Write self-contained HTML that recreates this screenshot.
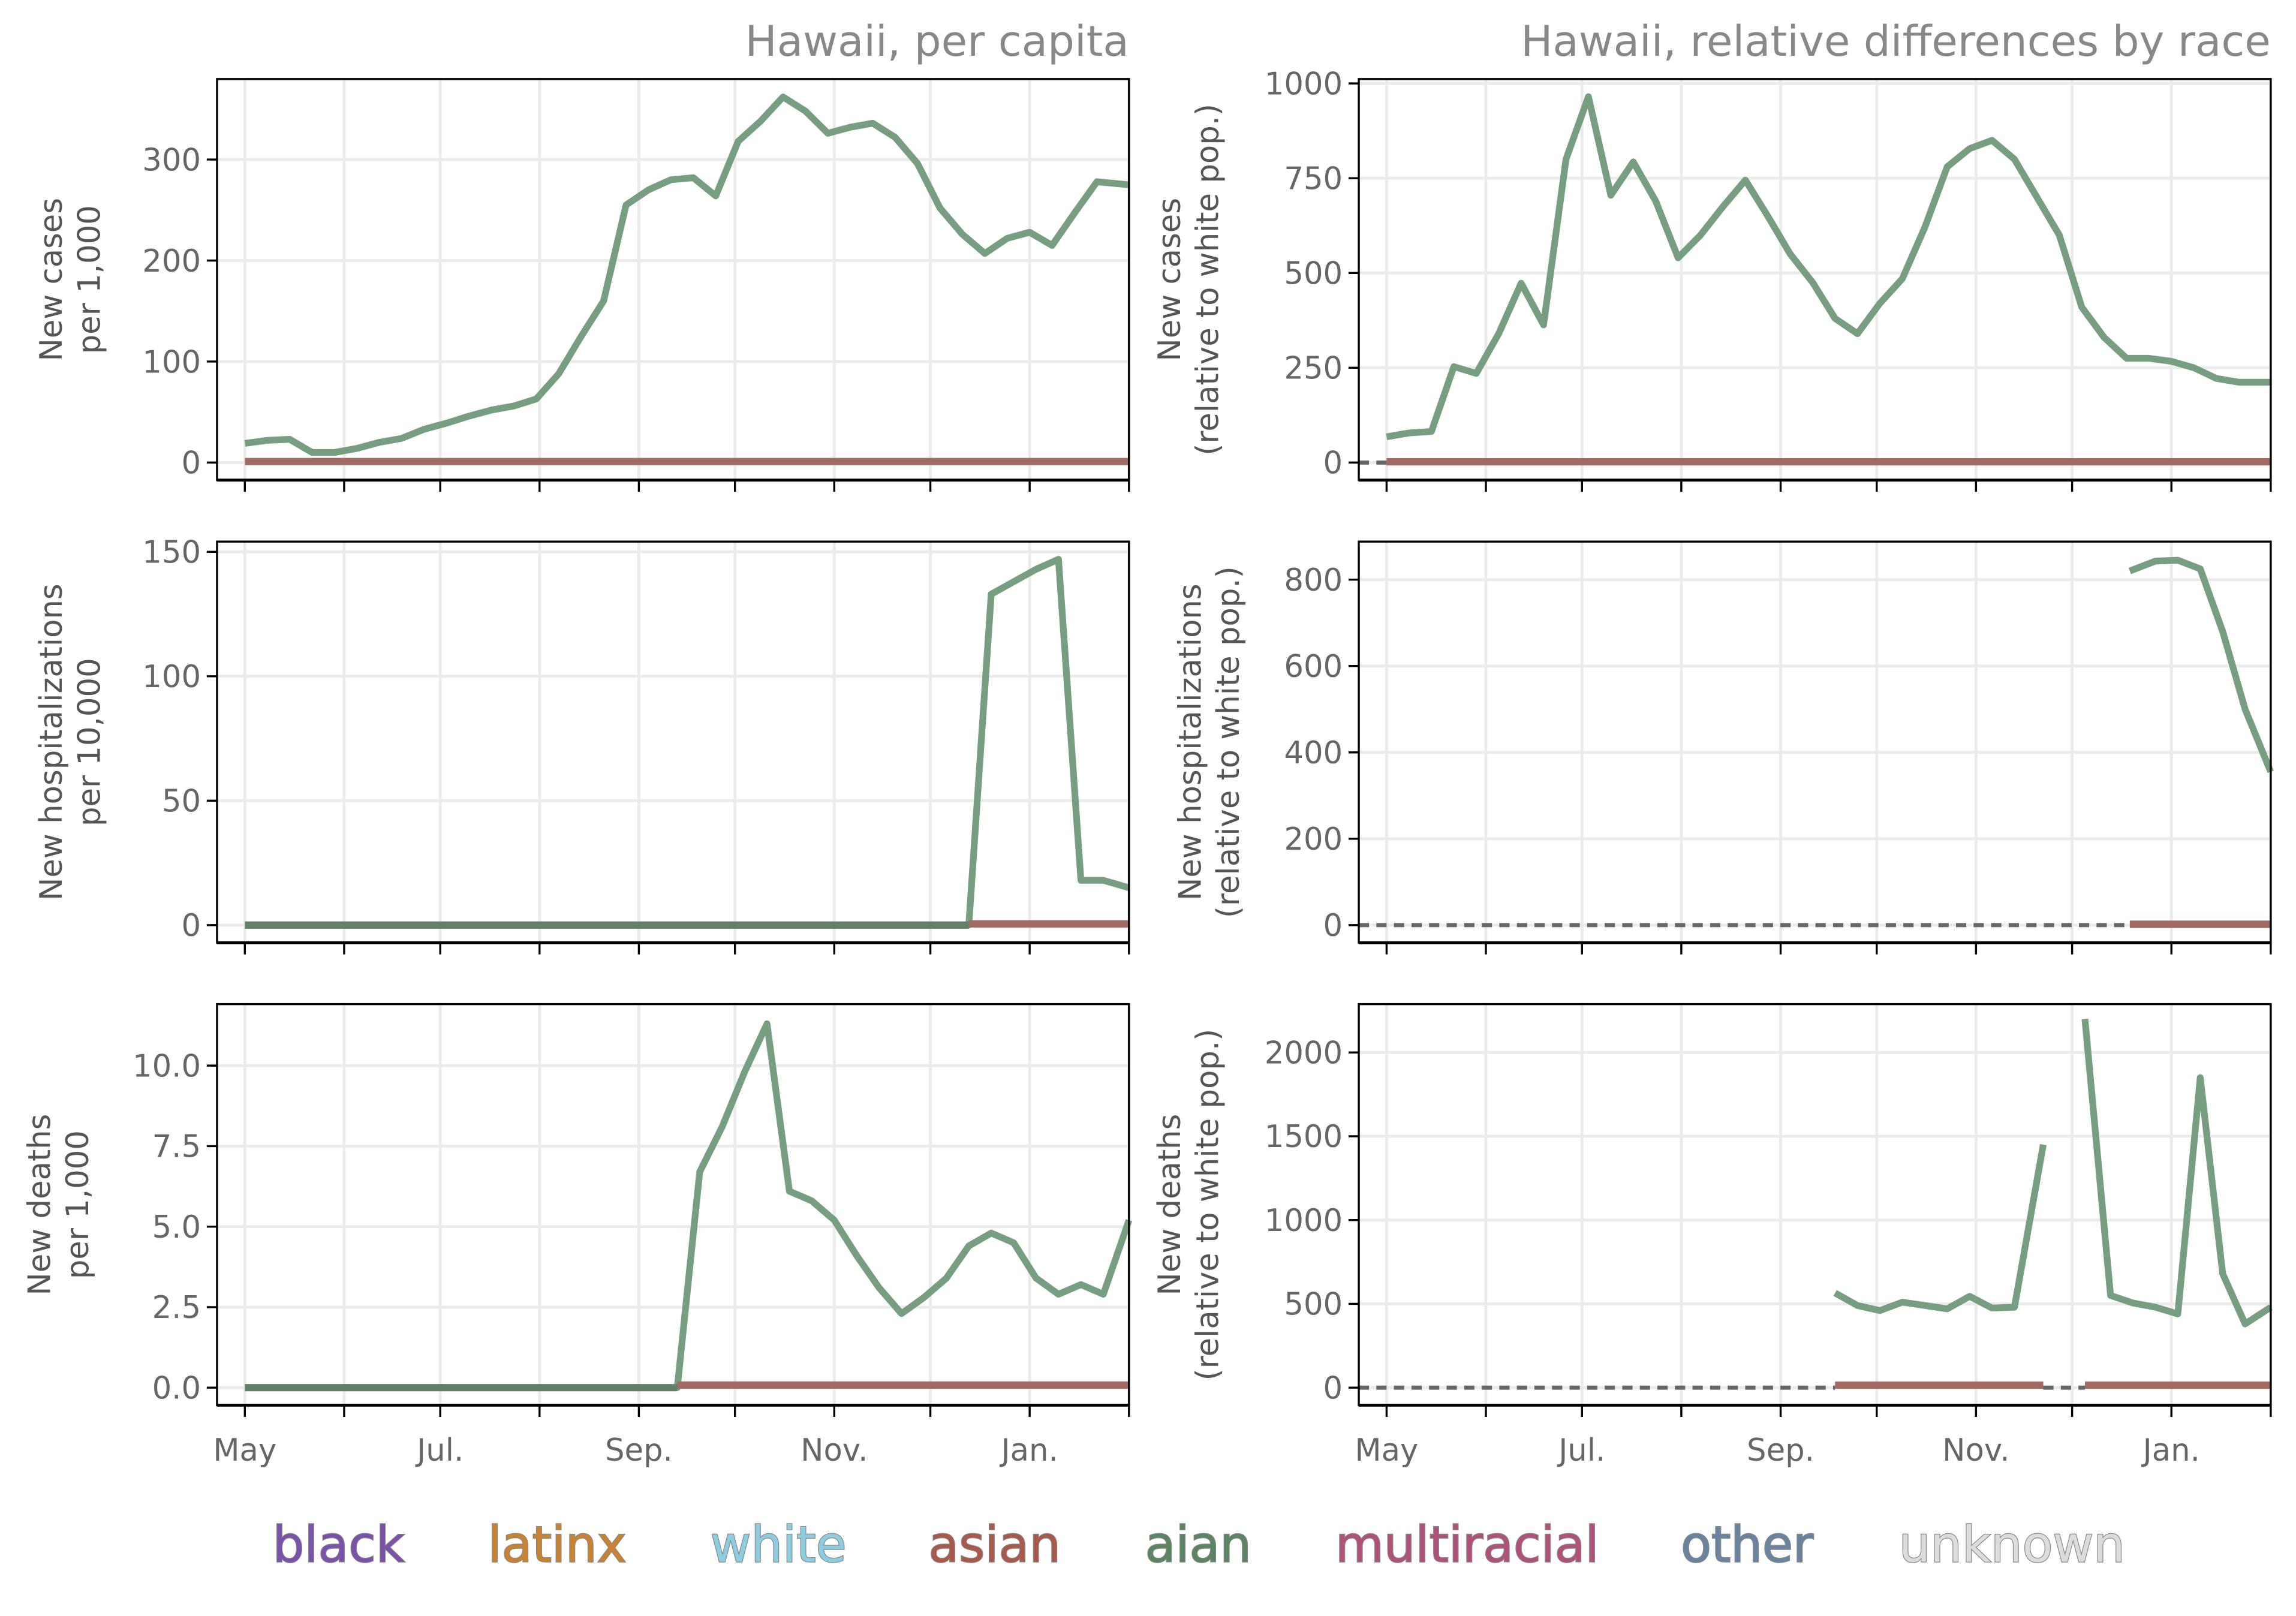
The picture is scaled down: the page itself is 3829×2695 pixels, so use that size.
<!DOCTYPE html>
<html><head><meta charset="utf-8"><style>
html,body{margin:0;padding:0;background:#fff}
svg{display:block}
text{font-family:"DejaVu Sans","Liberation Sans",sans-serif}
</style></head><body>
<svg id="c" xmlns="http://www.w3.org/2000/svg" width="3829" height="2695" viewBox="0 0 1568 1104">
<rect width="1568" height="1104" fill="#fff"/>
<text x="771" y="38" text-anchor="end" font-size="29" fill="#888">Hawaii, per capita</text>
<text x="1551" y="38" text-anchor="end" font-size="29" fill="#888">Hawaii, relative differences by race</text>
<g id="legend" font-size="34" stroke="#888" stroke-width="1" paint-order="stroke">
<text x="186" y="1067" fill="#7a52aa">black</text>
<text x="333" y="1067" fill="#c98132">latinx</text>
<text x="485" y="1067" fill="#8ecde0">white</text>
<text x="634" y="1067" fill="#a8594a">asian</text>
<text x="782" y="1067" fill="#5a8462">aian</text>
<text x="912" y="1067" fill="#b0517a">multiracial</text>
<text x="1148" y="1067" fill="#6a84a0">other</text>
<text x="1297" y="1067" fill="#dcdcdc">unknown</text>
</g>
</svg>
<script>
const NS="http://www.w3.org/2000/svg";
const svg=document.getElementById('c');
const monthDays=[0,31,61,92,123,153,184,214,245,276];
const monthLabels=["May","","Jul.","","Sep.","","Nov.","","Jan.",""];
const weeks=[0,7,14,21,28,35,42,49,56,63,70,77,84,91,98,105,112,119,126,133,140,147,154,161,168,175,182,189,196,203,210,217,224,231,238,245,252,259,266,276];
const casesPC=[19,22,23,10,10,14,20,24,33,39,46,52,56,63,88,125,160,255,270,280,282,264,318,338,362,348,326,332,336,322,296,252,226,207,222,228,215,247,278,275];
const casesRel=[68,78,82,253,235,340,473,363,800,965,705,793,690,540,600,675,745,650,550,475,380,340,420,485,620,780,828,850,800,700,600,410,330,275,275,267,250,222,212,212];
const hospDays=[0,226,233,240,247,254,261,268,276];
const hospPC=[0,0,133,138,143,147,18,18,15];
const hospRelDays=[232,240,247,254,261,268,276];
const hospRel=[820,843,845,825,680,500,355];
const deathDays=[0,135,142,149,156,163,170,177,184,191,198,205,212,219,226,233,240,247,254,261,268,276];
const deathPC=[0,0,6.7,8.1,9.8,11.3,6.1,5.8,5.2,4.1,3.1,2.3,2.8,3.4,4.4,4.8,4.5,3.4,2.9,3.2,2.9,5.2];
const deathRelDays1=[140,147,154,161,168,175,182,189,196,205];
const deathRel1=[565,490,460,510,490,470,545,475,480,1450];
const deathRelDays2=[218,226,233,240,247,254,261,268,276];
const deathRel2=[2200,550,505,480,440,1850,680,380,480];
const yTicks1L=[0,100,200,300],yTicks1R=[0,250,500,750,1000],yTicks2L=[0,50,100,150],yTicks2R=[0,200,400,600,800],yTicks3L=[0,2.5,5,7.5,10],yTicks3R=[0,500,1000,1500,2000];
const yTickLab3L=["0.0","2.5","5.0","7.5","10.0"];

function el(t,a,p){const e=document.createElementNS(NS,t);for(const k in a)e.setAttribute(k,a[k]);(p||svg).appendChild(e);return e;}

function panel(o){
  const g=el('g',{});
  
  
  const x0=o.x0,x1=o.x0+623,y0=o.y0,y1=o.y0+274;
  const xs=d=>x0+19+d*(604/276);
  const ys=v=>o.zy-v*o.k;
  monthDays.forEach(d=>{el('line',{x1:xs(d),x2:xs(d),y1:y0,y2:y1,stroke:'#ebebeb','stroke-width':2},g);});
  o.yt.forEach(v=>{el('line',{x1:x0,x2:x1,y1:ys(v),y2:ys(v),stroke:'#ebebeb','stroke-width':2},g);});
  (o.dash||[]).forEach(r=>{el('line',{x1:r[0]===null?x0:xs(r[0]),x2:xs(r[1]),y1:ys(0),y2:ys(0),stroke:'#666','stroke-width':2.8,'stroke-dasharray':'7,5'},g);});
  o.series.forEach(s=>{
    const p=el('polyline',{points:s.d.map((d,i)=>xs(d)+','+ys(s.v[i])).join(' '),fill:'none',stroke:s.c,'stroke-width':4.6,'stroke-linejoin':'round'},g);
    
    
  });
  (o.flat||[]).forEach(r=>{el('line',{x1:xs(r[0]),x2:xs(r[1]),y1:ys(0),y2:ys(0),stroke:'#637f67','stroke-width':5},g);});
  (o.brown||[]).forEach(r=>{
    const l=el('line',{x1:xs(r[0]),x2:xs(r[1]),y1:ys(r[2]),y2:ys(r[2]),stroke:'#a06a62','stroke-width':5},g);
    
    
  });
  el('rect',{x:x0,y:y0,width:623,height:274,fill:'none',stroke:'#000','stroke-width':1.4},g);
  el('line',{x1:x0,x2:x1,y1:y1,y2:y1,stroke:'#000','stroke-width':2},g);
  o.yt.forEach((v,i)=>{
    el('line',{x1:x0-7,x2:x0,y1:ys(v),y2:ys(v),stroke:'#000','stroke-width':1.4},g);
    const t=el('text',{x:x0-11,y:ys(v)+7.5,'text-anchor':'end','font-size':21,fill:'#666'},g);
    t.textContent=o.yl?o.yl[i]:String(v);
  });
  monthDays.forEach((d,i)=>{
    el('line',{x1:xs(d),x2:xs(d),y1:y1,y2:y1+8,stroke:'#000','stroke-width':1.4},g);
    if(o.xlab&&monthLabels[i]){const t=el('text',{x:xs(d),y:y1+38,'text-anchor':'middle','font-size':21,fill:'#666'},g);t.textContent=monthLabels[i];}
  });
  const cy=(y0+y1)/2;
  o.lab.forEach((s,i)=>{
    const lx=o.lx+i*26;
    const t=el('text',{x:lx,y:cy,'text-anchor':'middle','font-size':21,fill:'#555',transform:`rotate(-90 ${lx} ${cy})`},g);
    t.textContent=s;
  });
}
const G='#779e80';
panel({name:'cases-per-capita-panel',x0:148,y0:54,zy:316,k:207/300,yt:yTicks1L,lab:['New cases','per 1,000'],lx:42,
  brown:[[0,276,1]],series:[{n:'aian-cases-line',c:G,d:weeks,v:casesPC}]});
panel({name:'cases-relative-panel',x0:928,y0:54,zy:316,k:259/1000,yt:yTicks1R,lab:['New cases','(relative to white pop.)'],lx:806,
  dash:[[null,0]],brown:[[0,276,2]],series:[{n:'aian-cases-rel-line',c:G,d:weeks,v:casesRel}]});
panel({name:'hosp-per-capita-panel',x0:148,y0:370,zy:632,k:255/150,yt:yTicks2L,lab:['New hospitalizations','per 10,000'],lx:42,
  flat:[[0,226]],brown:[[226,276,0.5]],series:[{n:'aian-hosp-line',c:G,d:hospDays,v:hospPC}]});
panel({name:'hosp-relative-panel',x0:928,y0:370,zy:632,k:236/800,yt:yTicks2R,lab:['New hospitalizations','(relative to white pop.)'],lx:820,
  dash:[[null,232]],brown:[[232,276,2]],series:[{n:'aian-hosp-rel-line',c:G,d:hospRelDays,v:hospRel}]});
panel({name:'deaths-per-capita-panel',x0:148,y0:686,zy:948,k:22,yt:yTicks3L,yl:yTickLab3L,lab:['New deaths','per 1,000'],lx:34,xlab:true,
  flat:[[0,135]],brown:[[135,276,0.08]],series:[{n:'aian-deaths-line',c:G,d:deathDays,v:deathPC}]});
panel({name:'deaths-relative-panel',x0:928,y0:686,zy:948,k:229/2000,yt:yTicks3R,lab:['New deaths','(relative to white pop.)'],lx:806,xlab:true,
  dash:[[null,140],[205,218]],brown:[[140,205,15],[218,276,15]],series:[{n:'aian-deaths-rel-line-1',c:G,d:deathRelDays1,v:deathRel1},{n:'aian-deaths-rel-line-2',c:G,d:deathRelDays2,v:deathRel2}]});
</script>
</body></html>
